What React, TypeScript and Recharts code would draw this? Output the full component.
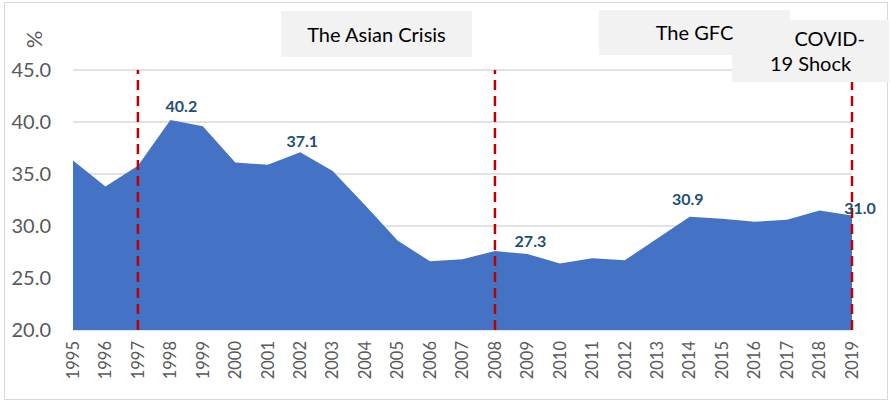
import { Area, AreaChart, CartesianGrid, ReferenceLine, XAxis, YAxis } from "recharts";

const years = [
  "1995", "1996", "1997", "1998", "1999", "2000", "2001", "2002", "2003", "2004", "2005", "2006", "2007",
  "2008", "2009", "2010", "2011", "2012", "2013", "2014", "2015", "2016", "2017", "2018", "2019"
];

const shareValues = [
  36.3, 33.8, 35.8, 40.2, 39.6, 36.1, 35.9, 37.1, 35.3, 32.0, 28.6, 26.6, 26.8,
  27.6, 27.3, 26.4, 26.9, 26.7, 28.8, 30.9, 30.7, 30.4, 30.6, 31.5, 31.0
];

const yTicks = [20, 25, 30, 35, 40, 45];

const labelledYears = ["1998", "2002", "2009", "2014", "2019"];

const shockYears = ["1997", "2008", "2019"];

// label nudges relative to the data point
const labelOffsets: Record<string, [number, number]> = {
  "1998": [11, -14],
  "2002": [2, -12],
  "2009": [3, -14],
  "2014": [-2, -18],
  "2019": [8, -8]
};

const chartData = years.map((year, i) => ({ year, value: shareValues[i] }));

const FONT = "Lato, 'Noto Sans', sans-serif";

function YearTick({ x, y, payload }: any) {
  return (
    <text
      x={x}
      y={y}
      transform={`rotate(-90 ${x} ${y})`}
      textAnchor="end"
      dy="0.35em"
      fill="#595959"
      fontSize={16.5}
      fontFamily={FONT}
    >
      {payload.value}
    </text>
  );
}

function PointLabel({ x, y, index, value }: any) {
  const year = years[index];
  if (!labelledYears.includes(year)) return null;
  const [dx, dy] = labelOffsets[year];
  return (
    <text
      x={x + dx}
      y={y + dy}
      textAnchor="middle"
      dominantBaseline="central"
      fill="#1F4E79"
      fontSize={16}
      fontWeight={700}
      fontFamily={FONT}
    >
      {Number(value).toFixed(1)}
    </text>
  );
}

const boxStyle = {
  position: "absolute" as const,
  background: "#F2F2F2",
  color: "#000",
  fontFamily: FONT,
  fontSize: 20,
  textAlign: "center" as const
};

export default function App() {
  return (
    <div style={{ position: "absolute", left: 0, top: 0, width: 891, height: 401, background: "#fff" }}>
      <div
        style={{
          position: "absolute",
          left: 4,
          top: 2,
          width: 882,
          height: 396,
          border: "1.5px solid #D9D9D9"
        }}
      />
      <AreaChart width={891} height={401} data={chartData} margin={{ top: 70, right: 39, left: 0, bottom: 11 }}>
        <CartesianGrid vertical={false} stroke="#D9D9D9" strokeWidth={1.5} />
        <XAxis
          dataKey="year"
          tick={<YearTick />}
          tickLine={false}
          axisLine={false}
          tickSize={0}
          tickMargin={11}
          height={60}
          interval={0}
        />
        <YAxis
          domain={[20, 45]}
          ticks={yTicks}
          tickFormatter={(v: number) => v.toFixed(1)}
          tick={{ fill: "#595959", fontSize: 20, fontFamily: FONT }}
          tickLine={false}
          axisLine={false}
          tickSize={0}
          tickMargin={22}
          width={73}
          allowDataOverflow
        />
        <Area
          type="linear"
          dataKey="value"
          stroke="none"
          fill="#4472C4"
          fillOpacity={1}
          isAnimationActive={false}
          label={<PointLabel />}
        />
        {shockYears.map((year) => (
          <ReferenceLine
            key={year}
            x={year}
            stroke="#C00000"
            strokeWidth={2.5}
            strokeDasharray="10 6"
          />
        ))}
      </AreaChart>
      <div
        style={{
          position: "absolute",
          left: 25,
          top: 26,
          fontFamily: FONT,
          fontSize: 22,
          color: "#595959",
          transform: "rotate(-90deg)"
        }}
      >
        %
      </div>
      <div style={{ ...boxStyle, left: 281, top: 11, width: 191, height: 46, lineHeight: "46px" }}>
        The Asian Crisis
      </div>
      <div style={{ ...boxStyle, left: 732, top: 20, width: 157, height: 62, lineHeight: "25px", paddingTop: 6, boxSizing: "border-box" }}>
        <div style={{ width: 157, marginLeft: 0 }}>
          The COVID-
          <br />
          19 Shock
        </div>
      </div>
      <div style={{ ...boxStyle, left: 599, top: 10, width: 191, height: 45, lineHeight: "45px" }}>
        The GFC
      </div>
    </div>
  );
}
